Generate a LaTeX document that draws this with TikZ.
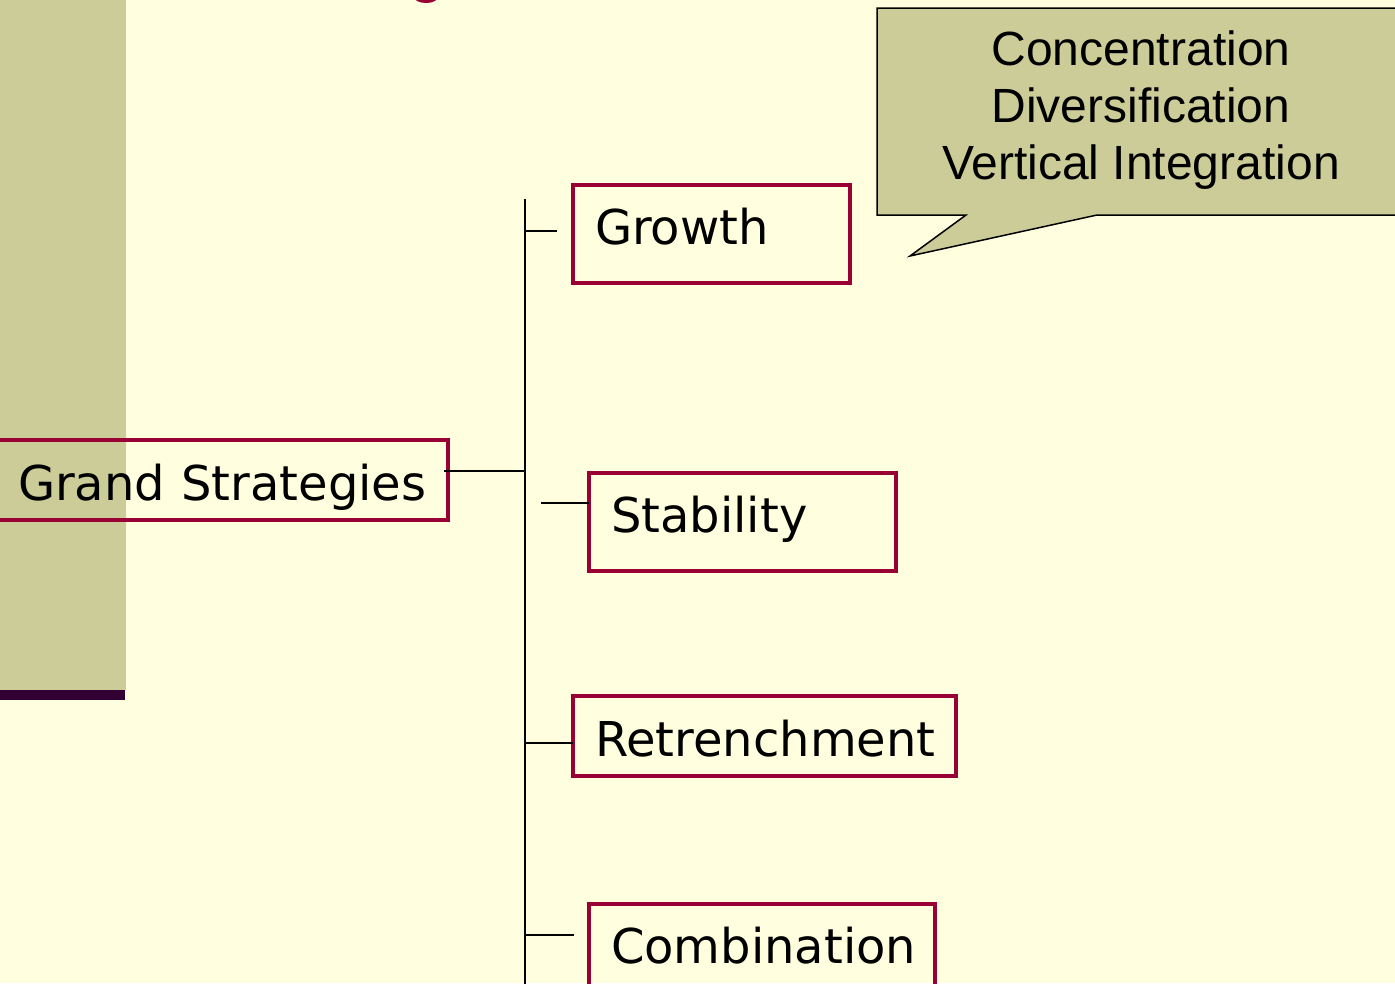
\documentclass[tikz,border=0pt]{standalone}
\usepackage{fontspec}
\newfontfamily\verd{DejaVu Sans}
\newfontfamily\ari{Liberation Sans}
\usetikzlibrary{calc}
\definecolor{bgc}{HTML}{FFFFDF}
\definecolor{khaki}{HTML}{CCCC99}
\definecolor{plum}{HTML}{330033}
\definecolor{crim}{HTML}{990033}
\begin{document}
\begin{tikzpicture}[x=1pt,y=-1pt,
  sbox/.style={draw=crim, line width=3.4pt, outer sep=0pt, inner xsep=22pt, inner ysep=0pt,
    align=left, anchor=north west, font=\verd\fontsize{48}{58}\selectfont},
  conn/.style={draw=black, line width=2pt},
  callbox/.style={draw=black, fill=khaki, line width=1.5pt, line join=miter}]
\useasboundingbox (0,0) rectangle (1395,983);
\fill[bgc] (0,0) rectangle (1395,983);
% left bar
\fill[khaki] (0,0) rectangle (126,690);
\fill[plum] (0,690) rectangle (125,700);
% fragment of a title letter at the top
\fill[crim] (426,-3) ellipse [x radius=12, y radius=6];
% boxes
\node[sbox, text width=402pt, minimum height=80pt, text height=50pt, text depth=10pt, inner xsep=28pt] (gs) at (-10,440) {\mbox{Grand Strategies}};
\node[sbox, text width=233pt, minimum height=98pt, text height=31pt, text depth=10pt] (growth) at (573,185) {Growth};
\node[sbox, text width=263pt, minimum height=98pt, text height=30pt, text depth=10pt] (stab) at (589,473) {Stability};
\node[sbox, text width=339pt, minimum height=80pt, text height=50pt, text depth=10pt] (retr) at (573,696) {Retrenchment};
\node[sbox, text width=302pt, minimum height=100pt, text height=28pt, text depth=10pt] (comb) at (589,904) {Combination};
% connectors
\coordinate (stop) at (525,199);
\coordinate (sbot) at (525,990);
\coordinate (gsj) at (525,471);
\coordinate (gsin) at ($(gs.east)+(-4,-9)$);
\coordinate (gj) at (525,231);
\coordinate (gt) at ($(growth.west)+(-16,-3)$);
\coordinate (st) at ($(stab.west)+(-48,-19)$);
\coordinate (rj) at (525,743);
\coordinate (cj) at (525,935);
\coordinate (ct) at ($(comb.north west)+(-15,31)$);
\draw[conn] (stop) -- (sbot);
\draw[conn] (gsin) -- (gsj);
\draw[conn] (gj) -- (gt);
\draw[conn] (st) -- (stab.west |- st);
\draw[conn] (rj) -- (retr.west |- rj);
\draw[conn] (cj) -- (ct);
% callout
\path[callbox] (877,8) -- (1402,8) -- (1402,215) -- (1097,215) -- (910,256) -- (966,215) -- (877,215) -- cycle;
\node[font=\ari\fontsize{48}{57}\selectfont, align=center] (callout) at (1141,110) {Concentration\\Diversification\\Vertical Integration};
\end{tikzpicture}
\end{document}
